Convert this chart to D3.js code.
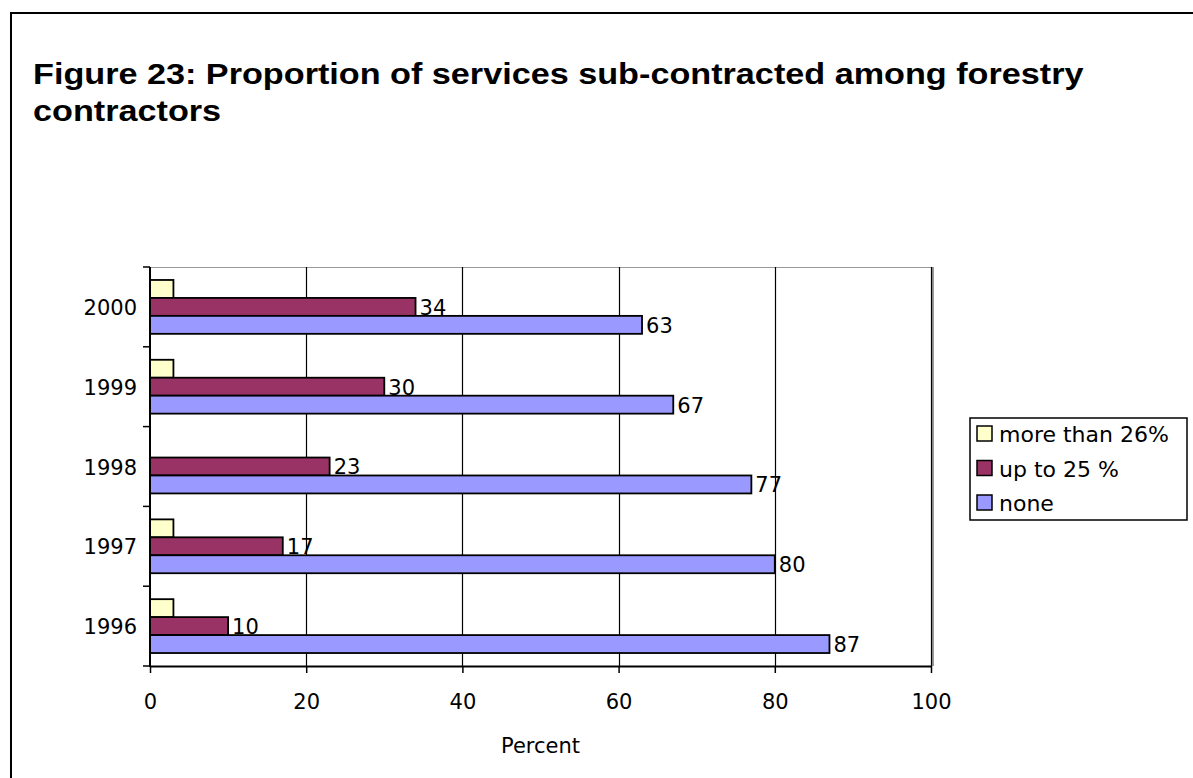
<!DOCTYPE html>
<html>
<head>
<meta charset="utf-8">
<script src="https://cdn.jsdelivr.net/npm/d3@7"></script>
<style>
  html, body { margin: 0; padding: 0; background: #fff; }
  svg { display: block; }
</style>
</head>
<body>
<svg id="chart" width="1193" height="778"></svg>
<script>
// Survey years, top to bottom
const years = ["2000", "1999", "1998", "1997", "1996"];
// Share of services sub-contracted (percent), one array per response group
const seriesNames = ["more than 26%", "up to 25 %", "none"];
const moreThan26 = [3, 3, 0, 3, 3];
const upTo25 = [34, 30, 23, 17, 10];
const none = [63, 67, 77, 80, 87];
const xTicks = [0, 20, 40, 60, 80, 100];
const colors = ["#FFFFCC", "#993366", "#9999FF"];

const seriesValues = [moreThan26, upTo25, none];
const rows = years.map((y, i) => ({
  year: y,
  values: seriesNames.map((s, k) => ({ series: s, k, value: seriesValues[k][i] }))
}));

const svg = d3.select("#chart");
const bodyFont = "'DejaVu Sans', Verdana, sans-serif";
const fs = 21;

// Outer frame
svg.append("rect")
  .attr("x", 11).attr("y", 13).attr("width", 1200).attr("height", 800)
  .attr("fill", "none").attr("stroke", "#000").attr("stroke-width", 2);

// Title (wide bold face)
const title = svg.append("text")
  .attr("transform", "translate(33,0) scale(1.14,1)")
  .attr("font-family", "'Liberation Sans', Arial, sans-serif")
  .attr("font-weight", "bold").attr("font-size", 30).attr("fill", "#000");
title.append("tspan").attr("x", 0).attr("y", 84).text("Figure 23: Proportion of services sub-contracted among forestry");
title.append("tspan").attr("x", 0).attr("y", 121).text("contractors");

const plot = { left: 150, right: 931, top: 267, bottom: 666 };

const x = d3.scaleLinear().domain([0, 100]).range([plot.left, plot.right]);
const y = d3.scaleBand().domain(years).range([plot.top, plot.bottom]).padding(0);
const groupH = y.bandwidth() * 0.675;
const inner = d3.scaleBand().domain(seriesNames).range([0, groupH]).padding(0);
const groupOffset = (y.bandwidth() - groupH) / 2;

// Plot-area top border (light)
svg.append("line")
  .attr("x1", plot.left).attr("x2", plot.right)
  .attr("y1", plot.top + 0.5).attr("y2", plot.top + 0.5)
  .attr("stroke", "#999").attr("stroke-width", 1);

// Right border shadow
svg.append("line")
  .attr("x1", x(100) + 2).attr("x2", x(100) + 2)
  .attr("y1", plot.top).attr("y2", plot.bottom)
  .attr("stroke", "#999").attr("stroke-width", 2);

// Vertical gridlines
svg.append("g").selectAll("line")
  .data(xTicks.filter(t => t > 0))
  .join("line")
  .attr("x1", d => Math.round(x(d)) + 0.5).attr("x2", d => Math.round(x(d)) + 0.5)
  .attr("y1", plot.top).attr("y2", plot.bottom)
  .attr("stroke", "#000").attr("stroke-width", 1.2);

// Bars
const groups = svg.append("g").selectAll("g")
  .data(rows)
  .join("g")
  .attr("transform", d => `translate(0,${y(d.year) + groupOffset})`);

groups.selectAll("rect")
  .data(d => d.values.filter(v => v.value > 0))
  .join("rect")
  .attr("x", x(0))
  .attr("y", d => inner(d.series))
  .attr("width", d => x(d.value) - x(0))
  .attr("height", inner.bandwidth())
  .attr("fill", d => colors[d.k])
  .attr("stroke", "#000").attr("stroke-width", 1.8);

// Value labels for the two main series
groups.selectAll("text")
  .data(d => d.values.filter(v => v.k > 0))
  .join("text")
  .attr("x", d => x(d.value) + 4)
  .attr("y", d => inner(d.series) + inner.bandwidth() / 2 + 8)
  .attr("font-family", bodyFont).attr("font-size", fs).attr("fill", "#000")
  .text(d => d.value);

// X axis
const xAxis = svg.append("g")
  .attr("transform", `translate(0,${plot.bottom})`)
  .call(d3.axisBottom(x).tickValues(xTicks).tickSize(7).tickPadding(21).tickSizeOuter(0));
xAxis.select(".domain").attr("stroke", "#000").attr("stroke-width", 2);
xAxis.selectAll(".tick line").attr("stroke", "#000").attr("stroke-width", 1.5);
xAxis.selectAll("text").attr("font-family", bodyFont).attr("font-size", fs).attr("fill", "#000");

// Y axis with ticks at category boundaries
const yAxis = svg.append("g").attr("transform", `translate(${plot.left},0)`);
yAxis.append("line")
  .attr("x1", 0).attr("x2", 0).attr("y1", plot.top).attr("y2", plot.bottom + 1)
  .attr("stroke", "#000").attr("stroke-width", 2);
const boundaries = years.map(d => y(d)).concat([plot.bottom]);
yAxis.selectAll("line.tk")
  .data(boundaries)
  .join("line").attr("class", "tk")
  .attr("x1", -7).attr("x2", 0)
  .attr("y1", d => d).attr("y2", d => d)
  .attr("stroke", "#000").attr("stroke-width", 1.5);
yAxis.selectAll("text")
  .data(years)
  .join("text")
  .attr("x", -13)
  .attr("y", d => y(d) + y.bandwidth() / 2 + 8)
  .attr("text-anchor", "end")
  .attr("font-family", bodyFont).attr("font-size", fs).attr("fill", "#000")
  .text(d => d);

// Axis title
svg.append("text")
  .attr("x", (plot.left + plot.right) / 2).attr("y", 753)
  .attr("text-anchor", "middle")
  .attr("font-family", bodyFont).attr("font-size", fs).attr("fill", "#000")
  .text("Percent");

// Legend
const legend = svg.append("g").attr("transform", "translate(970,418)");
legend.append("rect")
  .attr("x", 0).attr("y", 0).attr("width", 217).attr("height", 102)
  .attr("fill", "#fff").attr("stroke", "#000").attr("stroke-width", 1.5);
const li = legend.selectAll("g")
  .data(seriesNames)
  .join("g")
  .attr("transform", (d, i) => `translate(7,${16 + i * 34.5})`);
li.append("rect")
  .attr("x", 0).attr("y", -8).attr("width", 15).attr("height", 15)
  .attr("fill", (d, i) => colors[i]).attr("stroke", "#000").attr("stroke-width", 1.5);
li.append("text")
  .attr("x", 22).attr("y", 8)
  .attr("font-family", bodyFont).attr("font-size", 22).attr("fill", "#000")
  .text(d => d);
</script>
</body>
</html>
